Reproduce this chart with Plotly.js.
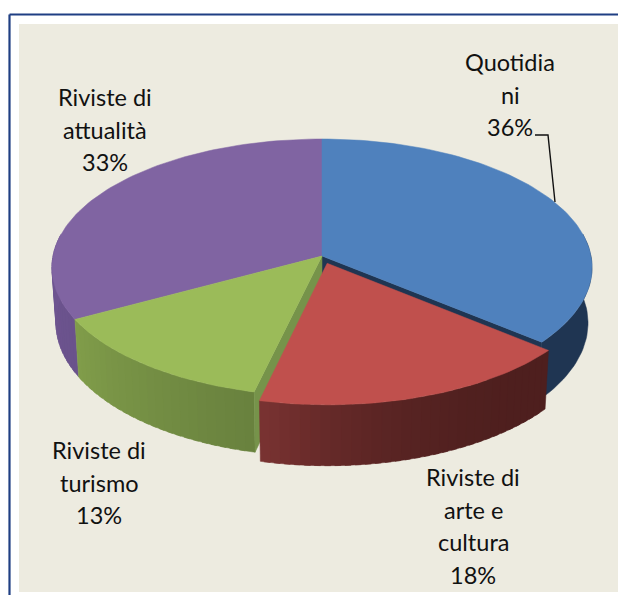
<!DOCTYPE html>
<html><head><meta charset="utf-8">
<script src="https://cdn.plot.ly/plotly-3.0.1.min.js"></script>
<style>html,body{margin:0;padding:0;background:#fff}#c{width:618px;height:595px}</style>
</head><body><div id="c"></div><script>
// Data
const categories = ["Quotidiani", "Riviste di arte e cultura", "Riviste di turismo", "Riviste di attualità"];
const shares = [36, 17.7, 13.4, 32.9];
const labelLines = [["Quotidia", "ni"], ["Riviste di", "arte e", "cultura"], ["Riviste di", "turismo"], ["Riviste di", "attualità"]];

// Styles
const topColors = ["#4f81bd", "#c0504d", "#9bbb59", "#8064a2"];
const sideFrom = [[31,53,82], [122,51,50], [128,157,74], [112,86,146]];
const sideTo   = [[31,53,82], [78,31,30], [104,129,62], [106,82,140]];
const sideCurve = [1, 2.6, 1, 1];
const cutColors = ["#1f3552", "#5a2826", "#76934a", "#6a528c"];
const explode = [0, 0.06, 0, 0];

// Layout of labels (pixels)
const labelCenterX = [510, 473, 99, 105];
const labelFirstY = [62, 477, 450, 97];
const lineStep = 32.7;

// Projection of the tilted pie
const P = {cx:322, cy:256, A:269, B:127.5, k:0.0896, d0:55, d1:5, s:0.985};
function topPlane(X,Y){const w=1-P.k*Y;return [P.cx+P.A*X/w, P.cy+P.B*Y/w];}
function botPlane(X,Y){const w=1-P.k*Y;return [P.cx+P.s*P.A*X/w, P.cy+P.d0+(P.B+P.d1)*Y/w];}
const rad = d=>d*Math.PI/180;

const traces = [];
function poly(pts,color){
  traces.push({type:"scatter",mode:"lines",x:pts.map(p=>p[0]).concat(pts[0][0]),y:pts.map(p=>p[1]).concat(pts[0][1]),
    fill:"toself",fillcolor:color,line:{color:color,width:0.5},hoverinfo:"skip",showlegend:false});
}
const total = shares.reduce((a,b)=>a+b,0);
let acc=0;
const slices = shares.map((v,i)=>{
  const a0=acc/total*360; acc+=v; const a1=acc/total*360;
  const mid=rad((a0+a1)/2);
  return {i,a0,a1,ox:Math.sin(mid)*explode[i],oy:-Math.cos(mid)*explode[i]};
});
function pt(s,a,r,fn){return fn(s.ox+r*Math.sin(rad(a)), s.oy-r*Math.cos(rad(a)));}
function outerSide(s){
  const lo=Math.max(s.a0,80), hi=Math.min(s.a1,280);
  if(hi<=lo) return;
  const from=sideFrom[s.i], to=sideTo[s.i];
  const flat=from.every((v,j)=>v===to[j]);
  const N=flat?1:Math.round((hi-lo)/2);
  const sub=Math.max(2,Math.ceil((hi-lo)/N/1.5));
  for(let n=0;n<N;n++){
    const a=lo+(hi-lo)*n/N;
    // each strip reaches under the next one so no seam shows
    const b=Math.min(hi,lo+(hi-lo)*(n+1.6)/N);
    const t=Math.pow((n+0.5)/N,sideCurve[s.i]), f=1-t;
    const c=[0,1,2].map(j=>Math.round(to[j]*f+from[j]*t));
    const steps=flat?Math.ceil((hi-lo)/1.5):sub;
    const up=[],down=[];
    for(let m=0;m<=steps;m++){const q=a+(b-a)*m/steps;up.push(pt(s,q,1,topPlane));down.unshift(pt(s,q,1,botPlane));}
    poly(up.concat(down),"rgb("+c.join(",")+")");
  }
}
function cutFace(s,a){
  poly([pt(s,a,0,topPlane),pt(s,a,1,topPlane),pt(s,a,1,botPlane),pt(s,a,0,botPlane)],cutColors[s.i]);
}
function topFace(s){
  const N=Math.ceil((s.a1-s.a0)/1.5), pts=[pt(s,0,0,topPlane)];
  for(let n=0;n<=N;n++) pts.push(pt(s,s.a0+(s.a1-s.a0)*n/N,1,topPlane));
  poly(pts,topColors[s.i]);
}
// back-to-front: purple, blue, green, red
outerSide(slices[3]);
outerSide(slices[0]); cutFace(slices[0],slices[0].a1);
outerSide(slices[2]); cutFace(slices[2],slices[2].a0);
outerSide(slices[1]);
[3,0,2,1].forEach(i=>topFace(slices[i]));

// leader line of the first label
traces.push({type:"scatter",mode:"lines",x:[535,548,555],y:[135,135,202],line:{color:"#111",width:1.4},hoverinfo:"skip",showlegend:false});

const annotations=[];
labelLines.forEach((lines,i)=>{
  lines.concat(Math.round(shares[i])+"%").forEach((t,n)=>{
    annotations.push({xref:"x",yref:"y",x:labelCenterX[i],y:labelFirstY[i]+n*lineStep,text:t,showarrow:false,
      xanchor:"center",yanchor:"middle",font:{family:"Lato, 'Open Sans', sans-serif",size:23.5,color:"#111"}});
  });
});

Plotly.newPlot("c",traces,{
  width:618,height:595,margin:{l:0,r:0,t:0,b:0},paper_bgcolor:"#fff",plot_bgcolor:"rgba(0,0,0,0)",showlegend:false,
  xaxis:{range:[0,618],visible:false,fixedrange:true},
  yaxis:{range:[595,0],visible:false,fixedrange:true},
  annotations:annotations,
  shapes:[
    {type:"rect",layer:"below",xref:"x",yref:"y",x0:19,x1:618,y0:24,y1:592,fillcolor:"#edebe0",line:{width:0}},
    {type:"line",layer:"below",xref:"x",yref:"y",x0:9.5,x1:618,y0:14.5,y1:14.5,line:{color:"#1f3f83",width:2.2}},
    {type:"line",layer:"below",xref:"x",yref:"y",x0:9.5,x1:9.5,y0:14.5,y1:595,line:{color:"#1f3f83",width:2.2}}
  ]
},{displayModeBar:false,staticPlot:true});
</script></body></html>
